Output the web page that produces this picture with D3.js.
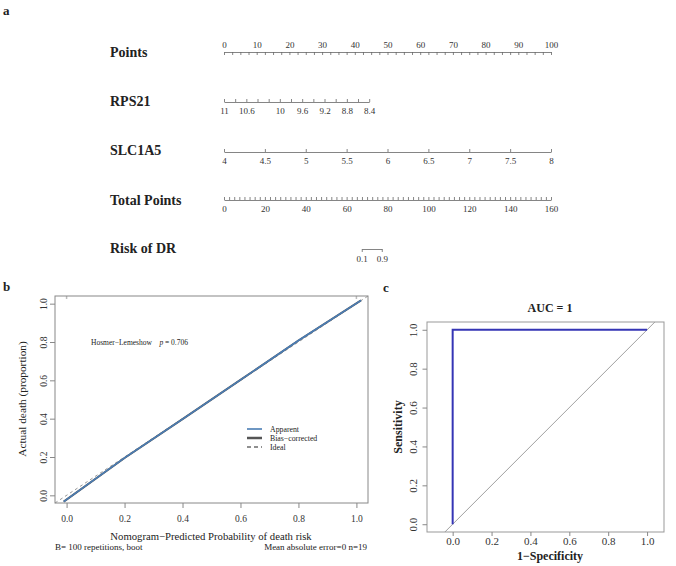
<!DOCTYPE html>
<meta charset="utf-8">
<head>
  <title>Nomogram, calibration and ROC</title>
</head>

<style>
body { margin: 0; background: #fff; }
text {
  font-family: "Liberation Serif", "Times New Roman", serif;
  fill: #222;
}
.lab { font-weight: bold; font-size: 14px; }
.panel { font-weight: bold; font-size: 13px; }
.nomo .tick text { font-size: 9px; fill: #333; }
.nomo path, .nomo line { stroke: #666; stroke-width: 0.8; }
.axb .tick text { font-size: 9.5px; fill: #333; }
.axc .tick text { font-size: 11px; fill: #333; }
.axb line, .axc line { stroke: #888; }
</style>

<body>
  <svg width="676" height="566"></svg>

  <script src="https://d3js.org/d3.v7.min.js"></script>
  <script>
// ---- panel a: nomogram ----
var pointsLabels = [0, 10, 20, 30, 40, 50, 60, 70, 80, 90, 100];
var rps21Ticks = [11, 10.8, 10.6, 10.4, 10.2, 10, 9.8, 9.6, 9.4, 9.2, 9, 8.8, 8.6, 8.4];
var rps21Labels = [11, 10.6, 10, 9.6, 9.2, 8.8, 8.4];
var rps21Points = [0, 44.4];          // points for RPS21 = 11 and 8.4
var slc1a5Labels = [4, 4.5, 5, 5.5, 6, 6.5, 7, 7.5, 8];
var slc1a5Points = [0, 100];          // points for SLC1A5 = 4 and 8
var totalLabels = [0, 20, 40, 60, 80, 100, 120, 140, 160];
var riskLabels = [0.1, 0.9];
var riskTotal = [67.4, 77.2];         // total points where risk = 0.1 / 0.9

// ---- panel b: calibration ----
var apparentX = [-0.01, 0.2, 0.4, 0.6, 0.8, 1.016];
var apparentY = [-0.033, 0.195, 0.398, 0.602, 0.808, 1.017];
var biasX = [-0.01, 0.2, 0.4, 0.6, 0.8, 1.016];
var biasY = [-0.033, 0.195, 0.398, 0.602, 0.808, 1.017];
var idealX = [-0.04, 1.04];
var rugX = [0, 1];
var calTicks = [0, 0.2, 0.4, 0.6, 0.8, 1.0];
var legendNames = ["Apparent", "Bias\u2212corrected", "Ideal"];

// ---- panel c: ROC ----
var rocFpr = [0, 0, 1];
var rocTpr = [0, 1, 1];
var rocTicks = [0, 0.2, 0.4, 0.6, 0.8, 1.0];

var svg = d3.select("svg");
svg.append("rect").attr("width", 676).attr("height", 566).attr("fill", "#fff");

// panel letters
svg.append("text").attr("class", "panel").attr("x", 3).attr("y", 15).text("a");
svg.append("text").attr("class", "panel").attr("x", 3).attr("y", 291).text("b");
svg.append("text").attr("class", "panel").attr("x", 383).attr("y", 292).text("c");

// nomogram
var xPts = d3.scaleLinear().domain([0, 100]).range([224, 551]);
var xTot = d3.scaleLinear().domain([0, 160]).range([224, 551]);
var rpsToPts = d3.scaleLinear().domain([11, 8.4]).range(rps21Points);
var slcToPts = d3.scaleLinear().domain([4, 8]).range(slc1a5Points);
var riskToTot = d3.scaleLinear().domain(riskLabels).range(riskTotal);

var xRps = d3.scaleLinear().domain([11, 8.4]).range([xPts(rpsToPts(11)), xPts(rpsToPts(8.4))]);
var xSlc = d3.scaleLinear().domain([4, 8]).range([xPts(slcToPts(4)), xPts(slcToPts(8))]);
var xRisk = d3.scaleLinear().domain(riskLabels).range([xTot(riskToTot(0.1)), xTot(riskToTot(0.9))]);

function nomoAxis(y, axis, label, labelY) {
  var g = svg.append("g").attr("class", "nomo").attr("transform", "translate(0," + y + ")");
  g.call(axis);
  svg.append("text").attr("class", "lab").attr("x", 110).attr("y", labelY).text(label);
  return g;
}

// Points: labels above, ticks down
var gp = nomoAxis(52, d3.axisTop(xPts).tickValues(d3.range(0, 100.1, 2.5)).tickSizeInner(-3).tickSizeOuter(0).tickFormat(""), "Points", 57);
gp.append("g").call(d3.axisTop(xPts).tickValues(pointsLabels).tickSize(0).tickPadding(4).tickFormat(d3.format("d")))
  .select(".domain").remove();

// RPS21: labels below, ticks up
var gr = nomoAxis(102, d3.axisBottom(xRps).tickValues(rps21Ticks).tickSizeInner(-3).tickSizeOuter(0).tickFormat(""), "RPS21", 106);
gr.append("g").call(d3.axisBottom(xRps).tickValues(rps21Labels).tickSize(0).tickPadding(6).tickFormat(d3.format("")))
  .select(".domain").remove();

// SLC1A5
nomoAxis(152, d3.axisBottom(xSlc).tickValues(slc1a5Labels).tickSizeInner(-3).tickSizeOuter(0).tickPadding(6).tickFormat(d3.format("")), "SLC1A5", 155);

// Total Points
var gt = nomoAxis(200, d3.axisBottom(xTot).tickValues(d3.range(0, 160.1, 2.5)).tickSizeInner(-3).tickSizeOuter(0).tickFormat(""), "Total Points", 205);
gt.append("g").call(d3.axisBottom(xTot).tickValues(totalLabels).tickSize(0).tickPadding(6).tickFormat(d3.format("d")))
  .select(".domain").remove();

// Risk of DR: ticks down
nomoAxis(249, d3.axisBottom(xRisk).tickValues(riskLabels).tickSizeInner(3).tickSizeOuter(0).tickPadding(4).tickFormat(d3.format(".1f")), "Risk of DR", 253);

// ---- panel b ----
var xB = d3.scaleLinear().domain([-0.04, 1.04]).range([55, 368]);
var yB = d3.scaleLinear().domain([-0.04, 1.04]).range([503, 296]);
var gb = svg.append("g");

var line = d3.line().x(function(d) { return xB(d[0]); }).y(function(d) { return yB(d[1]); });

gb.append("path").datum(idealX.map(function(v) { return [v, v]; }))
  .attr("d", line).attr("fill", "none").attr("stroke", "#999").attr("stroke-width", 1)
  .attr("stroke-dasharray", "3,3");
gb.append("path").datum(biasX.map(function(v, i) { return [v, biasY[i]]; }))
  .attr("d", line).attr("fill", "none").attr("stroke", "#555").attr("stroke-width", 2);
gb.append("path").datum(apparentX.map(function(v, i) { return [v, apparentY[i]]; }))
  .attr("d", line).attr("fill", "none").attr("stroke", "#4a7db5").attr("stroke-width", 1.6);

gb.selectAll(".rug").data(rugX).enter().append("line")
  .attr("x1", function(d) { return xB(d); }).attr("x2", function(d) { return xB(d); })
  .attr("y1", 296).attr("y2", 299).attr("stroke", "#bbb").attr("stroke-width", 1.5);

gb.append("rect").attr("x", 55).attr("y", 296).attr("width", 313).attr("height", 207)
  .attr("fill", "none").attr("stroke", "#888").attr("stroke-width", 1);

var axbx = gb.append("g").attr("class", "axb").attr("transform", "translate(0,503)")
  .call(d3.axisBottom(xB).tickValues(calTicks).tickSize(5).tickPadding(7).tickFormat(d3.format(".1f")));
axbx.select(".domain").remove();
var axby = gb.append("g").attr("class", "axb").attr("transform", "translate(55,0)")
  .call(d3.axisLeft(yB).tickValues(calTicks).tickSize(5).tickFormat(d3.format(".1f")));
axby.select(".domain").remove();
axby.selectAll(".tick text").attr("transform", "rotate(-90)").attr("x", 0).attr("y", -8.5)
  .attr("dy", 0).attr("text-anchor", "middle");

gb.append("text").attr("x", 211).attr("y", 540).attr("text-anchor", "middle")
  .style("font-size", "10.7px").text("Nomogram\u2212Predicted Probability of death risk");
gb.append("text").attr("transform", "translate(26,399) rotate(-90)").attr("text-anchor", "middle")
  .style("font-size", "11.3px").text("Actual death (proportion)");
gb.append("text").attr("x", 55).attr("y", 550).style("font-size", "9px").text("B= 100 repetitions, boot");
gb.append("text").attr("x", 367).attr("y", 550).attr("text-anchor", "end").style("font-size", "9px")
  .text("Mean absolute error=0 n=19");

var hl = gb.append("text").attr("x", 91).attr("y", 345).style("font-size", "7.5px");
hl.append("tspan").text("Hosmer\u2212Lemeshow\u00a0\u00a0\u00a0\u00a0");
hl.append("tspan").style("font-style", "italic").text("p");
hl.append("tspan").text(" = 0.706");

var legStyles = [
  { stroke: "#4a7db5", width: 1.6, dash: null },
  { stroke: "#555", width: 2.5, dash: null },
  { stroke: "#222", width: 1.2, dash: "4,3" }
];
var leg = gb.selectAll(".leg").data(legendNames).enter().append("g")
  .attr("transform", function(d, i) { return "translate(247," + (429 + i * 9) + ")"; });
leg.append("line").attr("x1", 0).attr("x2", 15).attr("y1", 0).attr("y2", 0)
  .attr("stroke", function(d, i) { return legStyles[i].stroke; })
  .attr("stroke-width", function(d, i) { return legStyles[i].width; })
  .attr("stroke-dasharray", function(d, i) { return legStyles[i].dash; });
leg.append("text").attr("x", 23).attr("y", 2.7).style("font-size", "7.8px").text(function(d) { return d; });

// ---- panel c ----
var xC = d3.scaleLinear().domain([-0.132, 1.087]).range([427, 664]);
var yC = d3.scaleLinear().domain([-0.04, 1.04]).range([532, 322]);
var gc = svg.append("g");
var lineC = d3.line().x(function(d) { return xC(d[0]); }).y(function(d) { return yC(d[1]); });

gc.append("path").datum([[-0.04, -0.04], [1.04, 1.04]]).attr("d", lineC)
  .attr("fill", "none").attr("stroke", "#888").attr("stroke-width", 0.8);
gc.append("path").datum(rocFpr.map(function(v, i) { return [v, rocTpr[i]]; })).attr("d", lineC)
  .attr("fill", "none").attr("stroke", "#3535b5").attr("stroke-width", 2);

gc.append("rect").attr("x", 427).attr("y", 322).attr("width", 237).attr("height", 210)
  .attr("fill", "none").attr("stroke", "#999").attr("stroke-width", 1);

var axcx = gc.append("g").attr("class", "axc").attr("transform", "translate(0,532)")
  .call(d3.axisBottom(xC).tickValues(rocTicks).tickSize(4).tickPadding(1).tickFormat(d3.format(".1f")));
axcx.select(".domain").remove();
var axcy = gc.append("g").attr("class", "axc").attr("transform", "translate(427,0)")
  .call(d3.axisLeft(yC).tickValues(rocTicks).tickSize(4.5).tickFormat(d3.format(".1f")));
axcy.select(".domain").remove();
axcy.selectAll(".tick text").attr("transform", "rotate(-90)").attr("x", 0).attr("y", -10.3)
  .attr("dy", 0).attr("text-anchor", "middle");

gc.append("text").attr("x", 550).attr("y", 312).attr("text-anchor", "middle")
  .style("font-size", "12px").style("font-weight", "bold").text("AUC = 1");
gc.append("text").attr("x", 550).attr("y", 560).attr("text-anchor", "middle")
  .style("font-size", "12px").style("font-weight", "bold").text("1\u2212Specificity");
gc.append("text").attr("transform", "translate(402,427) rotate(-90)").attr("text-anchor", "middle")
  .style("font-size", "12px").style("font-weight", "bold").text("Sensitivity");
  </script>
</body>
</html>
